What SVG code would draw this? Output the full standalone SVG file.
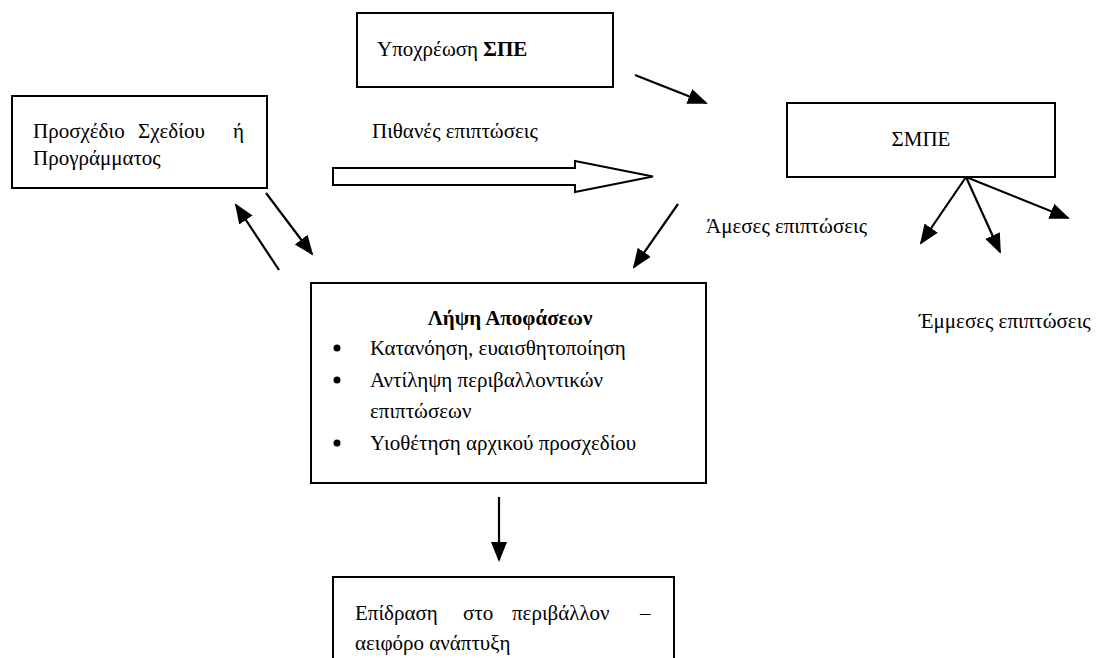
<svg xmlns="http://www.w3.org/2000/svg" width="1099" height="658" viewBox="0 0 1099 658">
<defs>
<marker id="ah" markerUnits="userSpaceOnUse" markerWidth="22" markerHeight="18" refX="18" refY="8" orient="auto" viewBox="0 0 22 16">
<path d="M0,0 L20,8 L0,16 z" fill="#000"/>
</marker>
</defs>
<rect width="1099" height="658" fill="#fff"/>

<g id="node-draft">
<rect x="12" y="96" width="255" height="92" fill="#fff" stroke="#000" stroke-width="2"/>
<text style="font-family:'Liberation Serif',serif;font-size:21px"><tspan x="33" y="138">Προσχέδιο</tspan><tspan x="138" y="138">Σχεδίου</tspan><tspan x="233" y="138">ή</tspan></text>
<text style="font-family:'Liberation Serif',serif;font-size:21px" x="33" y="165">Προγράμματος</text>
</g>

<g id="node-spe">
<rect x="357" y="13" width="256" height="74" fill="#fff" stroke="#000" stroke-width="2"/>
<text style="font-family:'Liberation Serif',serif;font-size:21px" x="377" y="56">Υποχρέωση <tspan font-weight="bold">ΣΠΕ</tspan></text>
</g>

<g id="node-smpe">
<rect x="787" y="103" width="268" height="74" fill="#fff" stroke="#000" stroke-width="2"/>
<text style="font-family:'Liberation Serif',serif;font-size:21px" x="921" y="146" text-anchor="middle">ΣΜΠΕ</text>
</g>

<g id="node-decision">
<rect x="311" y="283" width="395" height="200" fill="#fff" stroke="#000" stroke-width="2"/>
<text style="font-family:'Liberation Serif',serif;font-size:21px;font-weight:bold" x="510" y="325" text-anchor="middle">Λήψη Αποφάσεων</text>
<circle cx="337" cy="348" r="3.5"/>
<circle cx="337" cy="380" r="3.5"/>
<circle cx="337" cy="443" r="3.5"/>
<text style="font-family:'Liberation Serif',serif;font-size:21px" x="370" y="355">Κατανόηση, ευαισθητοποίηση</text>
<text style="font-family:'Liberation Serif',serif;font-size:21px" x="370" y="387">Αντίληψη περιβαλλοντικών</text>
<text style="font-family:'Liberation Serif',serif;font-size:21px" x="370" y="418">επιπτώσεων</text>
<text style="font-family:'Liberation Serif',serif;font-size:21px" x="370" y="450">Υιοθέτηση αρχικού προσχεδίου</text>
</g>

<g id="node-effect">
<rect x="333" y="577" width="341" height="100" fill="#fff" stroke="#000" stroke-width="2"/>
<text style="font-family:'Liberation Serif',serif;font-size:21px"><tspan x="355" y="620">Επίδραση</tspan><tspan x="463" y="620">στο</tspan><tspan x="512" y="620">περιβάλλον</tspan><tspan x="640" y="620">–</tspan></text>
<text style="font-family:'Liberation Serif',serif;font-size:21px" x="355" y="650">αειφόρο ανάπτυξη</text>
</g>

<g id="labels">
<text style="font-family:'Liberation Serif',serif;font-size:21px" x="372" y="138">Πιθανές επιπτώσεις</text>
<text style="font-family:'Liberation Serif',serif;font-size:21px" x="706" y="233">Άμεσες επιπτώσεις</text>
<text style="font-family:'Liberation Serif',serif;font-size:21px" x="919" y="328">Έμμεσες επιπτώσεις</text>
</g>

<g id="connectors" stroke="#000" stroke-width="2.2" fill="none">
<path d="M333,168 L575,168 L575,161 L653,176.5 L575,192 L575,185 L333,185 z" fill="#fff" stroke-width="2"/>
<line marker-end="url(#ah)" x1="635" y1="75" x2="706" y2="103"/>
<line marker-end="url(#ah)" x1="678" y1="204" x2="634" y2="267"/>
<line marker-end="url(#ah)" x1="266" y1="193" x2="312" y2="254"/>
<line marker-end="url(#ah)" x1="279" y1="270" x2="236" y2="205"/>
<line marker-end="url(#ah)" x1="499" y1="497" x2="499" y2="560"/>
<line marker-end="url(#ah)" x1="966" y1="177" x2="921" y2="243"/>
<line marker-end="url(#ah)" x1="966" y1="177" x2="1000" y2="252"/>
<line marker-end="url(#ah)" x1="966" y1="177" x2="1068" y2="218"/>
</g>
</svg>
